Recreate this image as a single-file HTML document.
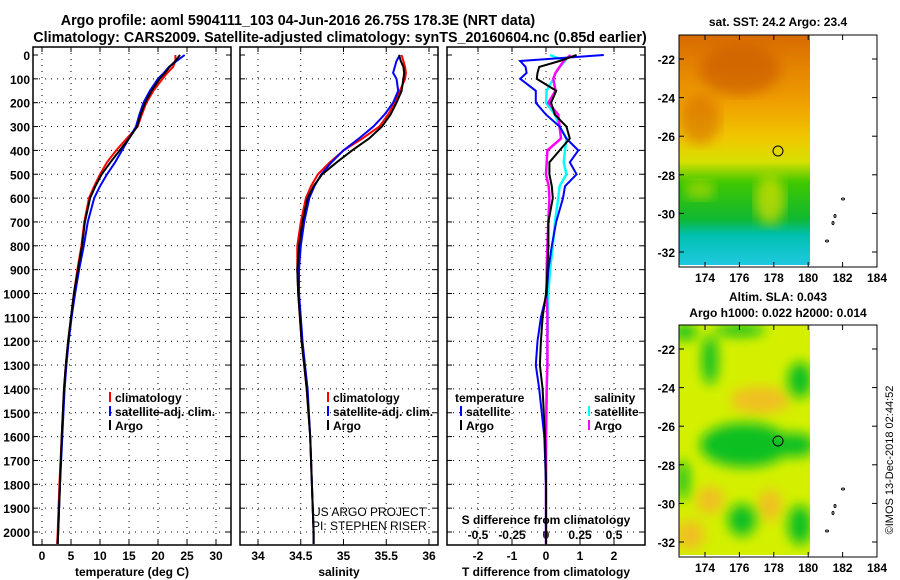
<!DOCTYPE html>
<html><head><meta charset="utf-8"><style>
body{margin:0;background:#fff}
svg{display:block;font-family:"Liberation Sans",Arial,sans-serif;font-weight:bold}
</style></head><body>
<svg id="c" width="900" height="580" viewBox="0 0 900 580">
<defs>
<linearGradient id="sst" x1="0" y1="0" x2="0" y2="1">
<stop offset="0" stop-color="#d86a00"/><stop offset="0.3" stop-color="#f0a000"/><stop offset="0.45" stop-color="#f0c800"/>
<stop offset="0.55" stop-color="#d8e000"/><stop offset="0.64" stop-color="#40c800"/><stop offset="0.8" stop-color="#10b830"/>
<stop offset="0.87" stop-color="#00c0b0"/><stop offset="1" stop-color="#20c8e0"/></linearGradient>
<filter id="bl"><feGaussianBlur stdDeviation="6"/></filter>
<clipPath id="m1"><rect x="679" y="35" width="131" height="230"/></clipPath>
<clipPath id="m2"><rect x="679" y="325" width="131" height="230"/></clipPath>
</defs>
<text x="298" y="25" font-size="14.3" text-anchor="middle">Argo profile: aoml 5904111_103 04-Jun-2016 26.75S 178.3E (NRT data)</text>
<text x="340" y="42" font-size="14.3" text-anchor="middle">Climatology: CARS2009. Satellite-adjusted climatology: synTS_20160604.nc (0.85d earlier)</text>
<g id="plots"></g>
<text x="778" y="26" font-size="12" text-anchor="middle">sat. SST: 24.2 Argo: 23.4</text>
<g clip-path="url(#m1)">
<rect x="679" y="35" width="131" height="230" fill="url(#sst)"/>
<ellipse cx="740" cy="70" rx="40" ry="25" fill="#c85800" opacity="0.6" filter="url(#bl)"/>
<ellipse cx="700" cy="120" rx="20" ry="25" fill="#d06000" opacity="0.5" filter="url(#bl)"/>
<ellipse cx="770" cy="200" rx="15" ry="25" fill="#e0e000" opacity="0.7" filter="url(#bl)"/>
<ellipse cx="700" cy="190" rx="15" ry="10" fill="#e0e000" opacity="0.5" filter="url(#bl)"/>
</g>
<rect x="810" y="35" width="67" height="230" fill="#fff"/>
<circle cx="778" cy="151" r="5" fill="none" stroke="#000"/>
<rect x="679" y="35" width="198" height="232" fill="none" stroke="#000"/>
<text x="778" y="301" font-size="12" text-anchor="middle">Altim. SLA: 0.043</text>
<text x="778" y="317" font-size="12" text-anchor="middle">Argo h1000: 0.022 h2000: 0.014</text>
<g clip-path="url(#m2)">
<rect x="679" y="325" width="131" height="232" fill="#d4f000"/>
<g fill="#f0c020" filter="url(#bl)">
<ellipse cx="760" cy="400" rx="30" ry="14"/><ellipse cx="710" cy="500" rx="14" ry="14"/>
<ellipse cx="770" cy="505" rx="12" ry="16"/><ellipse cx="690" cy="535" rx="15" ry="15"/>
</g>
<g fill="#10c020" filter="url(#bl)">
<ellipse cx="685" cy="332" rx="12" ry="8"/><ellipse cx="740" cy="330" rx="25" ry="6"/>
<ellipse cx="710" cy="360" rx="8" ry="25"/><ellipse cx="800" cy="380" rx="12" ry="18"/>
<ellipse cx="745" cy="445" rx="45" ry="22"/><ellipse cx="795" cy="445" rx="20" ry="12"/>
<ellipse cx="683" cy="480" rx="6" ry="20"/><ellipse cx="742" cy="520" rx="14" ry="16"/>
<ellipse cx="800" cy="525" rx="12" ry="20"/>
</g>
</g>
<rect x="810" y="325" width="67" height="232" fill="#fff"/>
<circle cx="778" cy="441" r="5" fill="none" stroke="#000"/>
<rect x="679" y="325" width="198" height="232" fill="none" stroke="#000"/>
<g fill="none" stroke="#000" stroke-width="1">
<ellipse cx="843" cy="199" rx="1.5" ry="1"/><ellipse cx="835" cy="216" rx="1" ry="1.5"/><ellipse cx="833" cy="223" rx="1" ry="1.5"/><ellipse cx="827" cy="241" rx="1.5" ry="1"/>
<ellipse cx="843" cy="489" rx="1.5" ry="1"/><ellipse cx="835" cy="506" rx="1" ry="1.5"/><ellipse cx="833" cy="513" rx="1" ry="1.5"/><ellipse cx="827" cy="531" rx="1.5" ry="1"/>
</g>
<g id="mapaxes"></g>
<text transform="translate(893,460) rotate(-90)" font-size="11" font-weight="normal" text-anchor="middle">©IMOS 13-Dec-2018 02:44:52</text>
</svg>
<script>
const depths=[0,25,50,75,100,150,200,250,300,350,400,450,500,550,600,700,800,900,1000,1100,1200,1300,1400,1600,1800,2000,2050];
const tempArgo=[23.8,23.0,22.0,21.2,20.3,18.9,17.8,17.0,16.4,15.0,13.4,11.8,10.3,9.2,8.3,7.4,6.9,6.2,5.5,5.0,4.5,4.1,3.8,3.4,3.1,2.8,2.7];
const tempClim=[23.0,23.0,22.6,21.6,20.8,19.2,18.0,17.2,16.5,14.6,12.8,11.2,10.0,9.0,8.1,7.3,6.8,6.1,5.5,5.0,4.5,4.1,3.8,3.4,3.0,2.7,2.6];
const tempSat=[24.6,23.2,21.9,21.0,20.0,18.6,17.5,16.8,16.2,15.0,13.8,12.6,11.2,10.0,9.0,7.9,7.2,6.4,5.7,5.1,4.6,4.2,3.9,3.5,3.1,2.8,2.7];
const salArgo=[35.65,35.67,35.70,35.71,35.70,35.68,35.62,35.55,35.45,35.30,35.10,34.92,34.75,34.65,34.58,34.52,34.48,34.46,34.47,34.49,34.51,34.54,34.57,34.61,34.63,34.65,34.65];
const salClim=[35.68,35.70,35.72,35.73,35.72,35.66,35.60,35.52,35.42,35.22,35.00,34.84,34.70,34.62,34.56,34.50,34.46,34.46,34.47,34.49,34.51,34.54,34.57,34.61,34.63,34.65,34.65];
const salSat=[35.66,35.62,35.60,35.58,35.62,35.64,35.58,35.48,35.35,35.18,35.00,34.86,34.74,34.66,34.60,34.54,34.50,34.48,34.48,34.50,34.52,34.55,34.58,34.61,34.63,34.65,34.65];
const dTArgo=[0.9,0.4,-0.2,-0.25,-0.27,0.3,0.15,0.26,0.6,0.7,0.4,0.1,0.1,0.17,0.2,0.07,0.07,0.04,0,-0.1,-0.15,-0.18,-0.1,-0.03,0,0,0];
const dTSat=[1.7,-0.76,-0.6,-0.57,-0.76,-0.3,-0.3,0,0.4,0.6,0.95,0.7,0.9,0.56,0.5,0.3,0.17,0.07,0.02,-0.15,-0.25,-0.3,-0.2,-0.05,0,0,0];
const dSArgo=[0.18,0.13,0.1,0.07,0.054,0.07,0.017,0.09,0.1,0.11,0.01,0.005,0.0,0.02,0.025,0.017,0.01,0.005,0.005,0.01,0.01,0.01,0.005,0.0,0.0,0,0];
const dSSat=[0.03,0.14,0.1,0.07,0.054,0.005,0,0.066,0.1,0.15,0.14,0.13,0.15,0.1,0.09,0.066,0.05,0.03,0.017,0.015,0.01,0.01,0.005,0.0,0,0,0];
const depthTicks=[0,100,200,300,400,500,600,700,800,900,1000,1100,1200,1300,1400,1500,1600,1700,1800,1900,2000];
const tempTicks=[0,5,10,15,20,25,30];
const salTicks=[34,34.5,35,35.5,36];
const dTTicks=[-2,-1,0,1,2];
const dSTickLabels=["-0.5","-0.25","0","0.25","0.5"];
const latTicks=[-22,-24,-26,-28,-30,-32];
const lonTicks=[174,176,178,180,182,184];

const NS="http://www.w3.org/2000/svg";
const svg=document.getElementById('c');
const g=document.getElementById('plots');
function mk(t,a,p){const e=document.createElementNS(NS,t);for(const k in a)e.setAttribute(k,a[k]);(p||g).appendChild(e);return e;}
const Y=d=>55+d*0.2385;
const TOP=47,BOT=545;
const panels=[
 {x0:33,x1:231,sx:v=>42+v*5.8,ticks:tempTicks,lab:tempTicks.map(String),title:"temperature (deg C)",name:"temperature"},
 {x0:240,x1:438,sx:v=>258+(v-34)*85.5,ticks:salTicks,lab:salTicks.map(String),title:"salinity",name:"salinity"},
 {x0:447,x1:645,sx:v=>546+v*34,ticks:dTTicks,lab:dTTicks.map(String),title:"T difference from climatology",name:"difference"}
];
panels.forEach((p,i)=>{
 const fr=mk('rect',{x:p.x0,y:TOP,width:p.x1-p.x0,height:BOT-TOP,fill:'#fff',stroke:'#000','stroke-width':1.5});
 
 
 depthTicks.forEach(d=>{
  if(d>0){const l=mk('line',{x1:p.x0,x2:p.x1,y1:Y(d),y2:Y(d),stroke:'#000','stroke-dasharray':'1 5'});
  
  }
  mk('line',{x1:p.x0,x2:p.x0+5,y1:Y(d),y2:Y(d),stroke:'#000'});
  mk('line',{x1:p.x1-5,x2:p.x1,y1:Y(d),y2:Y(d),stroke:'#000'});
 });
 p.ticks.forEach((v,j)=>{
  const x=p.sx(v);
  const l=mk('line',{x1:x,x2:x,y1:TOP,y2:BOT,stroke:'#000','stroke-dasharray':'1 5'});
  
  
  mk('line',{x1:x,x2:x,y1:BOT-5,y2:BOT,stroke:'#000'});
  mk('line',{x1:x,x2:x,y1:TOP,y2:TOP+5,stroke:'#000'});
  const t=mk('text',{x:x,y:560,'font-size':12,'text-anchor':'middle'});t.textContent=p.lab[j];
  
  
  if(i==2){const s=mk('text',{x:x,y:539,'font-size':12,'text-anchor':'middle'});s.textContent=dSTickLabels[j];
   
   }
 });
 const tt=mk('text',{x:(p.x0+p.x1)/2,y:576,'font-size':12,'text-anchor':'middle'});tt.textContent=p.title;
 
 
});
depthTicks.forEach(d=>{
 const t=mk('text',{x:30,y:Y(d)+5,'font-size':12,'text-anchor':'end'});t.textContent=d;
 
 
});
function line(vals,sx,col,name,w){
 const pts=vals.map((v,k)=>sx(v).toFixed(1)+','+Y(depths[k]).toFixed(1)).join(' ');
 const l=mk('polyline',{points:pts,fill:'none',stroke:col,'stroke-width':w||2});
 
 
}
line(tempClim,panels[0].sx,'#f00','temp-climatology-line');
line(tempSat,panels[0].sx,'#00f','temp-satellite-line');
line(tempArgo,panels[0].sx,'#000','temp-argo-line');
line(salClim,panels[1].sx,'#f00','sal-climatology-line');
line(salSat,panels[1].sx,'#00f','sal-satellite-line');
line(salArgo,panels[1].sx,'#000','sal-argo-line');
const sS=v=>546+v*136;
line(dSSat,sS,'#0ff','sdiff-satellite-line',2.5);
line(dSArgo,sS,'#f0f','sdiff-argo-line',2.5);
line(dTSat,panels[2].sx,'#00f','tdiff-satellite-line');
line(dTArgo,panels[2].sx,'#000','tdiff-argo-line');
function leg(x,y,col,txt,name){
 mk('line',{x1:x,x2:x,y1:y-10,y2:y,stroke:col,'stroke-width':2});
 const t=mk('text',{x:x+5,y:y,'font-size':12});t.textContent=txt;
 
 
}
[[110,'#f00','climatology'],[110,'#00f','satellite-adj. clim.'],[110,'#000','Argo']].forEach((a,k)=>leg(a[0],402+k*14,a[1],a[2],'temp-legend-entry'));
[[328,'#f00','climatology'],[328,'#00f','satellite-adj. clim.'],[328,'#000','Argo']].forEach((a,k)=>leg(a[0],402+k*14,a[1],a[2],'sal-legend-entry'));
let t=mk('text',{x:455,y:402,'font-size':12});t.textContent='temperature';
t=mk('text',{x:594,y:402,'font-size':12});t.textContent='salinity';
leg(461,416,'#00f','satellite','tdiff-legend-entry');
leg(461,430,'#000','Argo','tdiff-legend-entry');
leg(589,416,'#0ff','satellite','sdiff-legend-entry');
leg(589,430,'#f0f','Argo','sdiff-legend-entry');
t=mk('text',{x:546,y:524,'font-size':12,'text-anchor':'middle'});t.textContent='S difference from climatology';

t=mk('text',{x:312,y:516,'font-size':12,'font-weight':'normal'});t.textContent='US ARGO PROJECT';
t=mk('text',{x:312,y:530,'font-size':12,'font-weight':'normal'});t.textContent='PI: STEPHEN RISER';
const ma=document.getElementById('mapaxes');
[[35,59,267],[325,349,557]].forEach(m=>{
 latTicks.forEach(v=>{
  const y=m[1]+(-22-v)*19.3;
  mk('line',{x1:679,x2:684,y1:y,y2:y,stroke:'#000'},ma);mk('line',{x1:872,x2:877,y1:y,y2:y,stroke:'#000'},ma);
  const tx=mk('text',{x:675,y:y+5,'font-size':12,'text-anchor':'end'},ma);tx.textContent=v;
  
  
 });
 lonTicks.forEach(v=>{
  const x=705+(v-174)*17.2;
  mk('line',{x1:x,x2:x,y1:m[2]-5,y2:m[2],stroke:'#000'},ma);mk('line',{x1:x,x2:x,y1:m[0],y2:m[0]+5,stroke:'#000'},ma);
  const tx=mk('text',{x:x,y:m[2]+15,'font-size':12,'text-anchor':'middle'},ma);tx.textContent=v;
  
  
 });
});
</script>
</body></html>
